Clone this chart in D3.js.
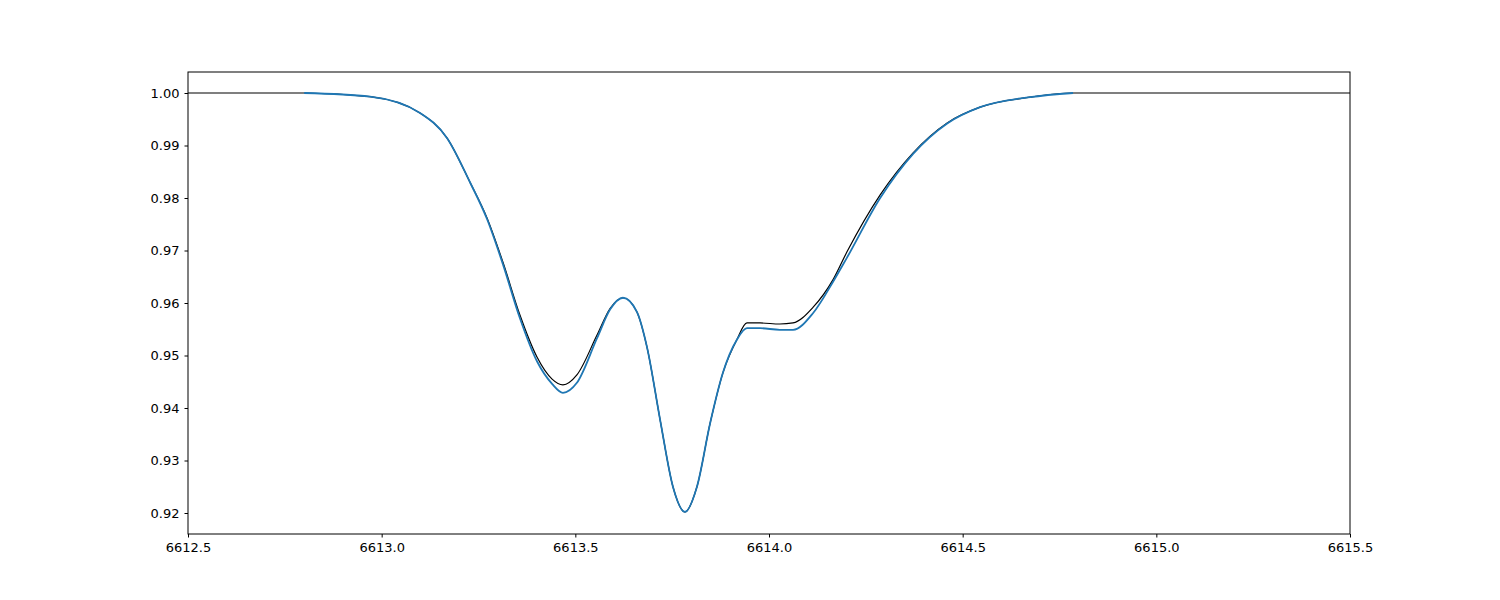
<!DOCTYPE html>
<html><head><meta charset="utf-8">
<script src="https://cdn.jsdelivr.net/npm/d3@7"></script>
<style>body{margin:0;background:#fff}text{font-family:"DejaVu Sans",sans-serif}</style>
</head><body><svg id="c" width="1500" height="600"></svg>
<script>
// wavelength grid and fluxes
var wave = [6612.5, 6612.8, 6612.97, 6613.099, 6613.169, 6613.228, 6613.272, 6613.313, 6613.357, 6613.401, 6613.44, 6613.468, 6613.504, 6613.556, 6613.59, 6613.623, 6613.659, 6613.685, 6613.719, 6613.752, 6613.783, 6613.814, 6613.848, 6613.881, 6613.917, 6613.943, 6613.977, 6614.028, 6614.062, 6614.114, 6614.165, 6614.201, 6614.287, 6614.372, 6614.46, 6614.545, 6614.674, 6614.785, 6615.5];
var fluxObs = [1.0, 1.0, 0.9993, 0.9962, 0.9914, 0.983, 0.9762, 0.9678, 0.9577, 0.9497, 0.9455, 0.9444, 0.9463, 0.9539, 0.959, 0.961, 0.9583, 0.9516, 0.9377, 0.925, 0.9202, 0.925, 0.9371, 0.9467, 0.953, 0.9562, 0.9562, 0.956, 0.9562, 0.9592, 0.9644, 0.9697, 0.9806, 0.9886, 0.9943, 0.9973, 0.9992, 1.0, 1.0];
var waveFit = wave.slice(1, -1);
var fluxFit = [1.0, 0.9993, 0.9962, 0.9914, 0.983, 0.976, 0.9674, 0.9571, 0.9489, 0.9446, 0.9429, 0.9448, 0.9533, 0.9588, 0.961, 0.9583, 0.9516, 0.9377, 0.925, 0.9202, 0.925, 0.9371, 0.9467, 0.953, 0.9552, 0.9552, 0.9549, 0.9549, 0.9581, 0.964, 0.9686, 0.98, 0.9884, 0.9942, 0.9973, 0.9992, 1.0];
var yTicks = [0.92, 0.93, 0.94, 0.95, 0.96, 0.97, 0.98, 0.99, 1.00];
var xTicks = [6612.5, 6613.0, 6613.5, 6614.0, 6614.5, 6615.0, 6615.5];

var svg = d3.select("#c");
var L = 188, R = 1350, T = 72, B = 534;
var x = d3.scaleLinear().domain([6612.5, 6615.5]).range([L, R]);
var y = d3.scaleLinear().domain([0.916, 1.004]).range([B, T]);

svg.append("clipPath").attr("id", "cp").append("rect")
  .attr("x", L).attr("y", T).attr("width", R - L).attr("height", B - T);

var lineObs = d3.line().x((d, i) => x(wave[i])).y(d => y(d)).curve(d3.curveMonotoneX);
svg.append("path").datum(fluxObs).attr("d", lineObs).attr("clip-path", "url(#cp)")
  .attr("fill", "none").attr("stroke", "#000").attr("stroke-width", 1.2);

var lineFit = d3.line().x((d, i) => x(waveFit[i])).y(d => y(d)).curve(d3.curveMonotoneX);
svg.append("path").datum(fluxFit).attr("d", lineFit).attr("clip-path", "url(#cp)")
  .attr("fill", "none").attr("stroke", "#1f77b4").attr("stroke-width", 1.8);

svg.append("g").attr("transform", "translate(0," + B + ")")
  .call(d3.axisBottom(x).tickValues(xTicks).tickFormat(d3.format(".1f")).tickSizeOuter(0).tickSize(3.5).tickPadding(5));
svg.append("g").attr("transform", "translate(" + L + ",0)")
  .call(d3.axisLeft(y).tickValues(yTicks).tickFormat(d3.format(".2f")).tickSizeOuter(0).tickSize(3.5).tickPadding(5));
svg.selectAll(".tick text").attr("font-size", 13).attr("fill", "#000");
svg.selectAll(".domain").remove();
svg.append("rect").attr("x", L).attr("y", T).attr("width", R - L).attr("height", B - T)
  .attr("fill", "none").attr("stroke", "#000").attr("stroke-width", 1);
</script></body></html>
